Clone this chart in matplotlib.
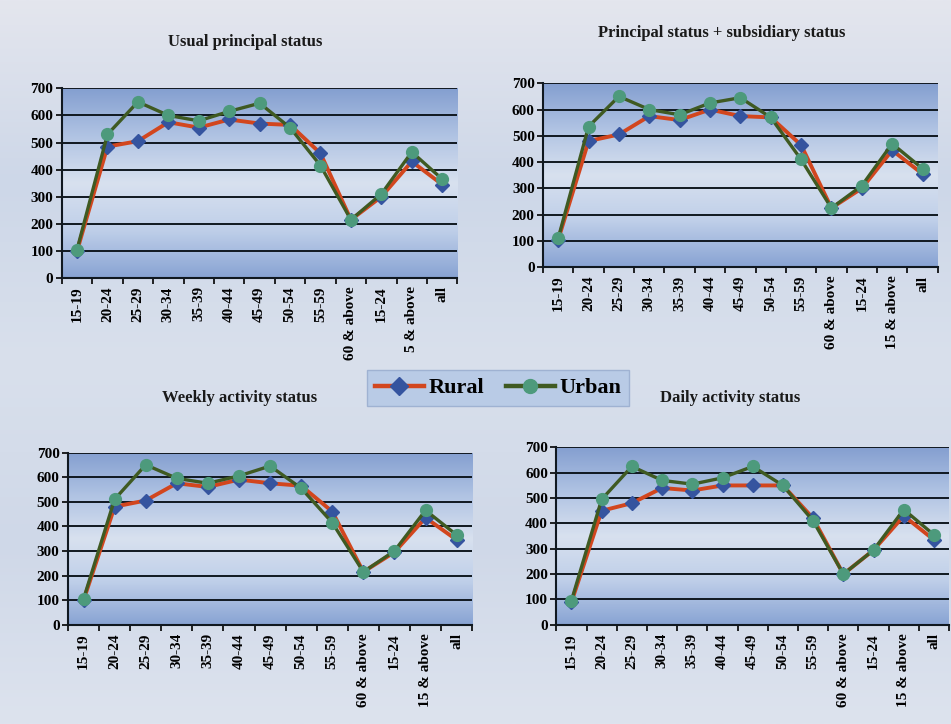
import numpy as np
import matplotlib
matplotlib.use("Agg")
import matplotlib.pyplot as plt
from matplotlib.colors import LinearSegmentedColormap
from matplotlib.lines import Line2D

plt.rcParams['font.family'] = ['Liberation Serif', 'DejaVu Serif']
plt.rcParams['font.weight'] = 'bold'

categories = ["15-19", "20-24", "25-29", "30-34", "35-39", "40-44", "45-49",
              "50-54", "55-59", "60 & above", "15-24", "15 & above", "all"]
# top-left panel shows a clipped label in the scan
categories_ups = categories[:11] + ["5 & above", "all"]

ups_rural = [100, 485, 505, 575, 555, 585, 570, 565, 460, 215, 300, 430, 345]
ups_urban = [105, 530, 650, 600, 580, 615, 645, 555, 415, 215, 310, 465, 365]

psss_rural = [105, 480, 505, 575, 560, 600, 575, 570, 465, 225, 300, 445, 355]
psss_urban = [110, 535, 650, 600, 580, 625, 645, 570, 410, 225, 310, 470, 375]

weekly_rural = [100, 480, 505, 575, 560, 590, 575, 565, 460, 215, 295, 435, 345]
weekly_urban = [105, 510, 650, 595, 575, 605, 645, 555, 415, 215, 300, 465, 365]

daily_rural = [90, 450, 480, 540, 530, 550, 550, 550, 420, 200, 295, 430, 335]
daily_urban = [95, 495, 625, 570, 555, 580, 625, 550, 410, 200, 295, 455, 355]

yticks = [0, 100, 200, 300, 400, 500, 600, 700]

RURAL_LINE = '#d2461e'
RURAL_MARK = '#35549f'
URBAN_LINE = '#3f5a22'
URBAN_MARK = '#4d9a7c'

fig = plt.figure(figsize=(9.51, 7.24), dpi=100)

# page background
bg = fig.add_axes([0, 0, 1, 1], zorder=-10)
bg_cmap = LinearSegmentedColormap.from_list(
    'page', ['#e4e6ee', '#cdd7e8', '#d9e0ec', '#cfd8e8', '#dde3ee'])
bg.imshow(np.linspace(0, 1, 256).reshape(-1, 1), aspect='auto', cmap=bg_cmap,
          extent=[0, 1, 0, 1], origin='upper')
bg.axis('off')

plot_cmap = LinearSegmentedColormap.from_list(
    'plotarea', ['#849fd0', '#b0c3e3', '#d8e1ef', '#bfcfe9', '#88a3d3'])


def panel(rect, title, title_xy, rural, urban, labels):
    ax = fig.add_axes(rect)
    x = np.arange(len(labels))
    ax.imshow(np.linspace(0, 1, 256).reshape(-1, 1), aspect='auto', cmap=plot_cmap,
              extent=[-0.5, len(labels) - 0.5, 0, 700], origin='upper', zorder=0)
    for v in yticks[1:]:
        ax.axhline(v, color='#101820', lw=1.4, zorder=1)
    ax.plot(x, rural, color=RURAL_LINE, lw=2.8, marker='D', ms=7,
            mfc=RURAL_MARK, mec=RURAL_MARK, zorder=3)
    ax.plot(x, urban, color=URBAN_LINE, lw=2.4, marker='o', ms=8.5,
            mfc=URBAN_MARK, mec=URBAN_MARK, zorder=4)
    ax.set_xlim(-0.5, len(labels) - 0.5)
    ax.set_ylim(0, 700)
    ax.set_yticks(yticks)
    ax.set_yticklabels([str(v) for v in yticks], fontsize=11, fontweight='bold')
    ax.set_xticks(x)
    ax.set_xticklabels(labels, rotation=90, fontsize=11, fontweight='bold')
    ax.set_xticks(np.arange(len(labels) + 1) - 0.5, minor=True)
    ax.tick_params(axis='x', which='major', length=0, pad=6)
    ax.tick_params(axis='x', which='minor', length=4, width=1.2, direction='out')
    ax.tick_params(axis='y', length=4, width=1.2, direction='out', pad=2)
    for s in ['top', 'right']:
        ax.spines[s].set_visible(False)
    for s in ['left', 'bottom']:
        ax.spines[s].set_linewidth(1.5)
        ax.spines[s].set_color('#101820')
    fig.text(title_xy[0] / 951, 1 - title_xy[1] / 724, title, ha='center', va='center',
             fontsize=12, fontweight='bold', color='#1a1a1a')
    return ax


panel([0.065, 0.616, 0.416, 0.262], "Usual principal status", (245, 42),
      ups_rural, ups_urban, categories_ups)
panel([0.571, 0.631, 0.415, 0.254], "Principal status + subsidiary status", (722, 33),
      psss_rural, psss_urban, categories)
panel([0.0715, 0.137, 0.425, 0.238], "Weekly activity status", (240, 398),
      weekly_rural, weekly_urban, categories)
panel([0.585, 0.137, 0.413, 0.245], "Daily activity status", (730, 398),
      daily_rural, daily_urban, categories)

handles = [
    Line2D([], [], color=RURAL_LINE, lw=3.2, marker='D', ms=9, mfc=RURAL_MARK, mec=RURAL_MARK),
    Line2D([], [], color=URBAN_LINE, lw=3.2, marker='o', ms=10, mfc=URBAN_MARK, mec=URBAN_MARK),
]
leg = fig.legend(handles, ["Rural", "Urban"], loc='center', ncol=2,
                 bbox_to_anchor=(498 / 951, 1 - 388 / 724),
                 prop={'size': 16, 'weight': 'bold'}, frameon=True,
                 handlelength=2.2, columnspacing=1.0, handletextpad=0.2,
                 fancybox=False, borderpad=0.35)
leg.get_frame().set_facecolor('#b9cbe6')
leg.get_frame().set_edgecolor('#9fb2d2')
leg.get_frame().set_alpha(1)

fig.savefig("out.png", dpi=100)
